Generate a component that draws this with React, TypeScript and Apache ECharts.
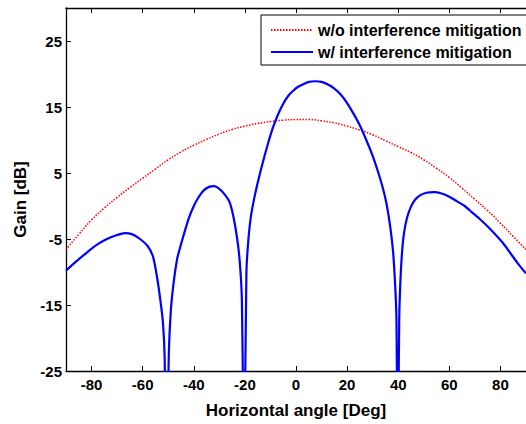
import React, { useEffect, useRef } from "react";
import * as echarts from "echarts";

const xTicks = [-80, -60, -40, -20, 0, 20, 40, 60, 80];
const yTicks = [-25, -15, -5, 5, 15, 25];

const redAngles = [-90, -85, -80, -75, -70, -65, -60, -55, -50, -45, -40, -35, -30, -25, -20, -15, -10, -5, 0, 5, 10, 15, 20, 25, 30, 35, 40, 45, 50, 55, 60, 65, 70, 75, 80, 85, 90];
const redGain = [-6.6, -4.3, -2.1, -0.3, 1.3, 2.8, 4.2, 5.6, 7.0, 8.2, 9.2, 10.1, 10.9, 11.6, 12.1, 12.5, 12.8, 13.0, 13.1, 13.1, 12.9, 12.6, 12.1, 11.5, 10.8, 9.9, 9.0, 8.1, 7.0, 5.7, 4.3, 2.7, 1.0, -0.7, -2.6, -4.6, -6.6];

const blueAngles = [-90, -86, -82, -78, -74, -70, -67, -64, -61, -58, -56, -54.5, -53, -52, -51.4, -50.6, -49.8, -49, -48, -46.5, -45, -43.5, -42, -40, -38, -36, -34, -32, -30, -28, -26, -24.5, -23, -22, -21.2, -20.3, -19.4, -18.5, -17.5, -16, -14.5, -13, -11, -9, -7, -5, -3, -1, 1, 3, 5, 7.5, 10, 12.5, 15, 17.5, 20, 22.5, 25, 27.5, 30, 32, 34, 35.5, 37, 38, 38.8, 39.3, 39.8, 40.4, 40.9, 41.5, 42.3, 43.5, 45, 46.5, 48.5, 51, 54, 57, 60, 63, 66, 69, 72, 75, 78, 81, 84, 87, 90];
const blueGain = [-9.8, -8.4, -7.1, -5.9, -5.0, -4.4, -4.1, -4.3, -5.0, -6.1, -7.6, -10.5, -14.5, -18, -23, -45, -23, -16, -12, -8, -5.8, -3.8, -1.9, 0, 1.4, 2.4, 2.9, 3.0, 2.6, 1.8, 0.6, -1.6, -5.0, -8.5, -14, -40, -10, -4.5, -1.2, 1.8, 4.3, 6.6, 9.4, 11.9, 13.9, 15.5, 16.7, 17.5, 18.1, 18.5, 18.8, 18.9, 18.8, 18.4, 17.8, 16.9, 15.6, 14.0, 12.2, 10.0, 7.6, 5.3, 2.7, 0.2, -3.5, -7, -12, -17, -40, -17, -11, -7, -4, -1.7, -0.1, 0.9, 1.6, 2.0, 2.1, 1.9, 1.4, 0.7, 0, -1.0, -2.0, -3.1, -4.3, -5.6, -7.2, -8.8, -10.2];

const seriesNames = ["w/o interference mitigation", "w/ interference mitigation"];

const FONT = "'Liberation Sans', Arial, sans-serif";

export default function App() {
  const ref = useRef<HTMLDivElement>(null);
  useEffect(() => {
    if (!ref.current) return;
    const chart = echarts.init(ref.current, undefined, { renderer: "svg" });
    const axisLine = { show: true, onZero: false, lineStyle: { color: "#000", width: 1.3 } };
    const tickFont = { fontFamily: FONT, fontWeight: "bold", fontSize: 15, color: "#000" };
    chart.setOption({
      animation: false,
      backgroundColor: "#fff",
      grid: { left: 66, top: 8, width: 465, height: 369, containLabel: false },
      legend: {
        orient: "vertical",
        left: 261,
        top: 15,
        padding: [6, 30, 4, 9],
        itemGap: 4,
        itemWidth: 42,
        itemHeight: 18,
        backgroundColor: "#fff",
        borderColor: "#000",
        borderWidth: 1,
        borderRadius: 0,
        itemStyle: { opacity: 0 },
        textStyle: { fontFamily: FONT, fontWeight: "bold", fontSize: 16, lineHeight: 18, color: "#000" },
        data: seriesNames,
      },
      xAxis: [
        {
          type: "value",
          min: -90,
          max: 90,
          position: "bottom",
          axisLine,
          splitLine: { show: false },
          axisTick: { show: true, inside: true, length: 5, customValues: xTicks, lineStyle: { color: "#000" } },
          axisLabel: { customValues: xTicks, margin: 6, ...tickFont },
          name: "Horizontal angle [Deg]",
          nameLocation: "middle",
          nameGap: 31,
          nameTextStyle: { fontFamily: FONT, fontWeight: "bold", fontSize: 17, color: "#000" },
        },
        {
          type: "value",
          min: -90,
          max: 90,
          position: "top",
          axisLine,
          splitLine: { show: false },
          axisTick: { show: true, inside: true, length: 5, customValues: xTicks, lineStyle: { color: "#000" } },
          axisLabel: { show: false },
        },
      ],
      yAxis: [
        {
          type: "value",
          min: -25,
          max: 30,
          axisLine,
          splitLine: { show: false },
          axisTick: { show: true, inside: true, length: 5, customValues: yTicks, lineStyle: { color: "#000" } },
          axisLabel: { customValues: yTicks, margin: 4, ...tickFont },
          name: "Gain [dB]",
          nameLocation: "middle",
          nameGap: 36,
          nameTextStyle: { fontFamily: FONT, fontWeight: "bold", fontSize: 17, color: "#000", padding: [0, 20, 0, 0] },
        },
      ],
      series: [
        {
          name: seriesNames[0],
          type: "line",
          data: redAngles.map((a, i) => [a, redGain[i]]),
          symbol: "none",
          smooth: true,
          clip: true,
          lineStyle: { color: "#ff0000", width: 1.5, type: [1.5, 1.5] },
          itemStyle: { color: "#ff0000" },
        },
        {
          name: seriesNames[1],
          type: "line",
          data: blueAngles.map((a, i) => [a, blueGain[i]]),
          symbol: "none",
          smooth: 0.25,
          clip: true,
          lineStyle: { color: "#0000ff", width: 2.2 },
          itemStyle: { color: "#0000ff" },
        },
      ],
    });
    return () => chart.dispose();
  }, []);
  return (
    <div
      ref={ref}
      style={{ position: "fixed", left: 0, top: 0, width: 526, height: 424, background: "#fff" }}
    />
  );
}
